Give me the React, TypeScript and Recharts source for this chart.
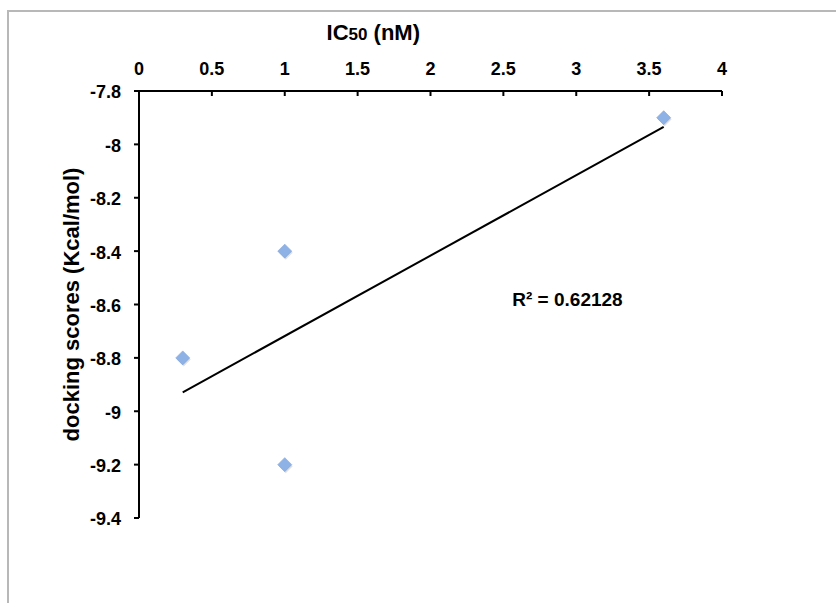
import { ScatterChart, Scatter, XAxis, YAxis, ReferenceLine, ReferenceDot } from 'recharts';

const ic50 = [0.3, 1, 1, 3.6];
const dockingScores = [-8.8, -8.4, -9.2, -7.9];
const xTicks = [0, 0.5, 1, 1.5, 2, 2.5, 3, 3.5, 4];
const yTicks = [-9.4, -9.2, -9, -8.8, -8.6, -8.4, -8.2, -8, -7.8];

const points = ic50.map((x, i) => ({ x, y: dockingScores[i] }));

// least squares trend line + R²
const n = points.length;
const mx = ic50.reduce((a, b) => a + b, 0) / n;
const my = dockingScores.reduce((a, b) => a + b, 0) / n;
let sxy = 0, sxx = 0, syy = 0;
points.forEach(p => {
  sxy += (p.x - mx) * (p.y - my);
  sxx += (p.x - mx) ** 2;
  syy += (p.y - my) ** 2;
});
const slope = sxy / sxx;
const intercept = my - slope * mx;
const r2 = (sxy * sxy) / (sxx * syy);
const xMin = Math.min(...ic50);
const xMax = Math.max(...ic50);

const font = 'Arial, "Liberation Sans", Helvetica, sans-serif';

const Diamond = (props: any) => {
  const { cx, cy } = props;
  const r = 7;
  const pts = (dx: number, dy: number) =>
    `${cx + dx},${cy - r + dy} ${cx + r + dx},${cy + dy} ${cx + dx},${cy + r + dy} ${cx - r + dx},${cy + dy}`;
  return (
    <g>
      <polygon points={pts(1, 1.5)} fill="rgba(0,0,0,0.12)" />
      <polygon points={pts(0, 0)} fill="#8eb2e6" stroke="#7ea3da" strokeWidth={0.6} />
    </g>
  );
};

const XTitle = () => (
  <text x={420} y={40} textAnchor="end" fontFamily={font} fontWeight="bold" fontSize={22} fill="#000">
    <tspan>IC</tspan>
    <tspan fontSize={17}>50</tspan>
    <tspan> (nM)</tspan>
  </text>
);

export default function App() {
  return (
    <div style={{ position: 'absolute', left: 0, top: 0, width: 836, height: 603, background: '#fff' }}>
      <div style={{ position: 'absolute', left: 7, top: 10, right: 0, bottom: 0, borderLeft: '2px solid #b8b8b8', borderTop: '2px solid #b8b8b8' }} />
      <div style={{ position: 'absolute', left: 0, top: 0 }}>
        <ScatterChart width={836} height={603} margin={{ top: 61, right: 114, bottom: 85, left: 79 }}>
          <XAxis
            type="number"
            dataKey="x"
            orientation="top"
            domain={[0, 4]}
            ticks={xTicks}
            height={30}
            tickSize={-5}
            tickMargin={21}
            axisLine={{ stroke: '#000', strokeWidth: 2 }}
            tickLine={{ stroke: '#000', strokeWidth: 2 }}
            tick={{ fill: '#000', fontSize: 18, fontWeight: 'bold', fontFamily: font }}
            label={<XTitle />}
          />
          <YAxis
            type="number"
            dataKey="y"
            domain={[-9.4, -7.8]}
            ticks={yTicks}
            width={60}
            tickSize={5}
            tickMargin={13}
            axisLine={{ stroke: '#000', strokeWidth: 2 }}
            tickLine={{ stroke: '#000', strokeWidth: 2 }}
            tick={{ fill: '#000', fontSize: 18, fontWeight: 'bold', fontFamily: font, dy: 1 }}
            label={{
              value: 'docking scores (Kcal/mol)',
              angle: -90,
              position: 'insideLeft',
              offset: -8,
              style: { textAnchor: 'middle', fill: '#000', fontSize: 22, fontWeight: 'bold', fontFamily: font },
            }}
          />
          <ReferenceLine
            segment={[
              { x: xMin, y: slope * xMin + intercept },
              { x: xMax, y: slope * xMax + intercept },
            ]}
            stroke="#000"
            strokeWidth={2}
          />
          <Scatter data={points} shape={<Diamond />} isAnimationActive={false} />
          <ReferenceDot
            x={2.94}
            y={-8.58}
            r={0}
            fill="none"
            stroke="none"
            label={{
              value: `R² = ${r2.toFixed(5)}`,
              position: 'center',
              style: { fill: '#000', fontSize: 19, fontWeight: 'bold', fontFamily: font },
            }}
          />
        </ScatterChart>
      </div>
    </div>
  );
}
